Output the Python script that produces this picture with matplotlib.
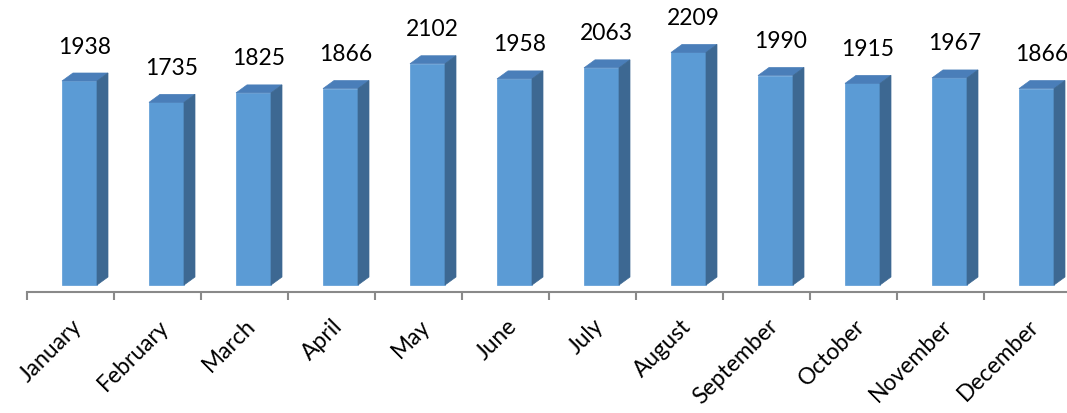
import matplotlib
matplotlib.use("Agg")
import matplotlib.pyplot as plt
from matplotlib.patches import Polygon

months = ["January", "February", "March", "April", "May", "June", "July",
          "August", "September", "October", "November", "December"]
values = [1938, 1735, 1825, 1866, 2102, 1958, 2063, 2209, 1990, 1915, 1967, 1866]

plt.rcParams['font.family'] = ['Lato', 'DejaVu Sans']

W, H = 1067, 413
fig = plt.figure(figsize=(W / 100, H / 100), dpi=100)
# axes: left at 27px, 87 px per category; axis line at 292 px from top
ax = fig.add_axes([27 / W, 121 / H, 1044 / W, 292 / H])
ppu = 204 / 1938.0  # pixels per unit
ymin = -7 / ppu
ax.set_xlim(0, 12)
ax.set_ylim(ymin, ymin + 292 / ppu)

front_c = "#5B9BD5"
top_c = "#4A7EB9"
side_c = "#3D6892"

bw = 35 / 87.0
off = 35 / 87.0
dx = 11 / 87.0
dy = 8 / ppu

for i, v in enumerate(values):
    x0 = i + off
    x1 = x0 + bw
    ax.add_patch(Polygon([(x0, 0), (x1, 0), (x1, v), (x0, v)], closed=True,
                         facecolor=front_c, edgecolor=front_c, lw=0.5))
    ax.add_patch(Polygon([(x0, v), (x1, v), (x1 + dx, v + dy), (x0 + dx, v + dy)],
                         closed=True, facecolor=top_c, edgecolor=top_c, lw=0.5))
    ax.add_patch(Polygon([(x1, 0), (x1 + dx, dy), (x1 + dx, v + dy), (x1, v)],
                         closed=True, facecolor=side_c, edgecolor=side_c, lw=0.5))
    ax.annotate(str(v), xy=((x0 + x1) / 2, v), xytext=(5, 34),
                textcoords='offset pixels', ha='center', va='center',
                fontsize=16.5, color='black')

for s in ['top', 'left', 'right']:
    ax.spines[s].set_visible(False)
ax.spines['bottom'].set_color('#898989')
ax.spines['bottom'].set_linewidth(1.5)
ax.set_yticks([])
ax.set_xticks(range(0, 13))
ax.set_xticklabels([])
ax.tick_params(axis='x', direction='out', length=6, width=1.5, color='#898989')

for i, m in enumerate(months):
    ax.annotate(m, xy=(i + 0.5, ymin), xycoords='data', xytext=(8, -31),
                textcoords='offset pixels', ha='right', va='center',
                rotation=45, rotation_mode='anchor', fontsize=16.5, color='black',
                annotation_clip=False)

fig.savefig("out.png", dpi=100)
